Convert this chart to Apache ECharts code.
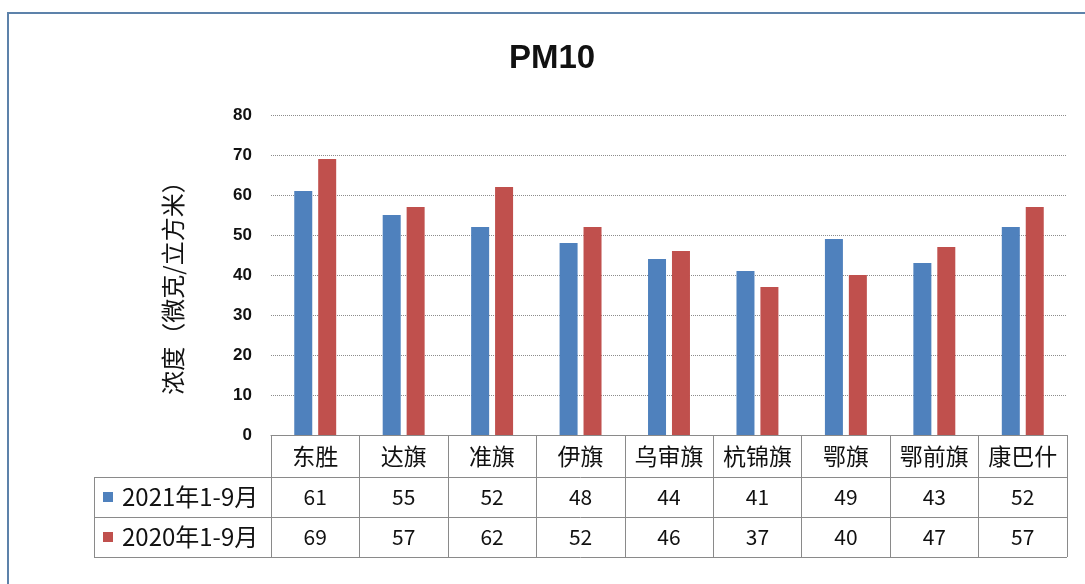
<!DOCTYPE html>
<html>
<head>
<meta charset="utf-8">
<script src="https://cdn.jsdelivr.net/npm/echarts@6/dist/echarts.min.js"></script>
<style>
  html, body { margin: 0; padding: 0; background: #fff; }
  #main { width: 1085px; height: 584px; }
</style>
</head>
<body>
<div id="main"></div>
<script>
// 数据
const categories = ['东胜', '达旗', '准旗', '伊旗', '乌审旗', '杭锦旗', '鄂旗', '鄂前旗', '康巴什'];
const seriesNames = ['2021年1-9月', '2020年1-9月'];
const pm2021 = [61, 55, 52, 48, 44, 41, 49, 43, 52];
const pm2020 = [69, 57, 62, 52, 46, 37, 40, 47, 57];
const yMin = 0, yMax = 80, yStep = 10;

const cjk = '"Noto Sans CJK SC", sans-serif';
const lineColor = '#8a8a8a';

let chart = echarts.init(document.getElementById('main'));

// 数据表的格子线（横线 + 左侧一列）
const L = 94, R = 1067;
const tableLines = [
  [L, 477.5, R, 477.5],
  [L, 517.5, R, 517.5],
  [L, 557.5, R, 557.5],
  [L + 0.5, 477, L + 0.5, 558]
].map(function (p) {
  return {
    type: 'line',
    shape: { x1: p[0], y1: p[1], x2: p[2], y2: p[3] },
    style: { stroke: lineColor, lineWidth: 1 }
  };
});

chart.setOption({
  animation: false,
  title: {
    text: 'PM10',
    left: 547,
    textAlign: 'center',
    top: 37,
    textStyle: { fontFamily: '"Liberation Sans", Arial, sans-serif', fontWeight: 'bold', fontSize: 33, lineHeight: 33, color: '#111' }
  },
  legend: {
    data: seriesNames,
    orient: 'vertical',
    left: 103,
    top: 485,
    padding: 0,
    itemGap: 16,
    itemWidth: 10,
    itemHeight: 10,
    icon: 'rect',
    selectedMode: false,
    textStyle: { fontFamily: cjk, fontSize: 24, lineHeight: 24, color: '#111', padding: [0, 0, 0, 4] }
  },
  grid: { left: 271, right: 18, top: 115, bottom: 149 },
  xAxis: [
    {
      type: 'category',
      data: categories,
      axisLine: { lineStyle: { color: lineColor } },
      axisTick: { show: true, length: 122, lineStyle: { color: lineColor } },
      axisLabel: { interval: 0, margin: 21, verticalAlign: 'middle', fontFamily: cjk, fontSize: 23, color: '#111' }
    },
    {
      type: 'category',
      data: categories,
      position: 'bottom',
      offset: 41,
      axisLine: { show: false },
      axisTick: { show: false },
      axisLabel: {
        interval: 0, margin: 21, verticalAlign: 'middle', fontFamily: cjk, fontSize: 21, color: '#111',
        formatter: function (v, i) { return String(pm2021[i]); }
      }
    },
    {
      type: 'category',
      data: categories,
      position: 'bottom',
      offset: 81,
      axisLine: { show: false },
      axisTick: { show: false },
      axisLabel: {
        interval: 0, margin: 21, verticalAlign: 'middle', fontFamily: cjk, fontSize: 21, color: '#111',
        formatter: function (v, i) { return String(pm2020[i]); }
      }
    }
  ],
  yAxis: {
    type: 'value',
    min: yMin,
    max: yMax,
    interval: yStep,
    name: '浓度（微克/立方米）',
    nameLocation: 'middle',
    nameGap: 86,
    nameTextStyle: { fontFamily: cjk, fontSize: 24, color: '#111', padding: [0, 14, 0, 0] },
    axisLine: { show: false },
    axisTick: { show: false },
    axisLabel: { margin: 19, fontFamily: '"Liberation Sans", Arial, sans-serif', fontWeight: 'bold', fontSize: 17, color: '#111' },
    splitLine: { lineStyle: { type: 'dotted', color: '#8c8c8c', width: 1 } }
  },
  series: [
    {
      name: seriesNames[0],
      type: 'bar',
      data: pm2021,
      barWidth: 18,
      barGap: '33%',
      itemStyle: { color: '#4f81bd' }
    },
    {
      name: seriesNames[1],
      type: 'bar',
      data: pm2020,
      barWidth: 18,
      barGap: '33%',
      itemStyle: { color: '#c0504d' }
    }
  ],
  graphic: [
    {
      type: 'rect',
      shape: { x: 8, y: 13, width: 1100, height: 600 },
      style: { fill: null, stroke: '#5d82aa', lineWidth: 2 },
      silent: true
    }
  ].concat(tableLines)
});
</script>
</body>
</html>
